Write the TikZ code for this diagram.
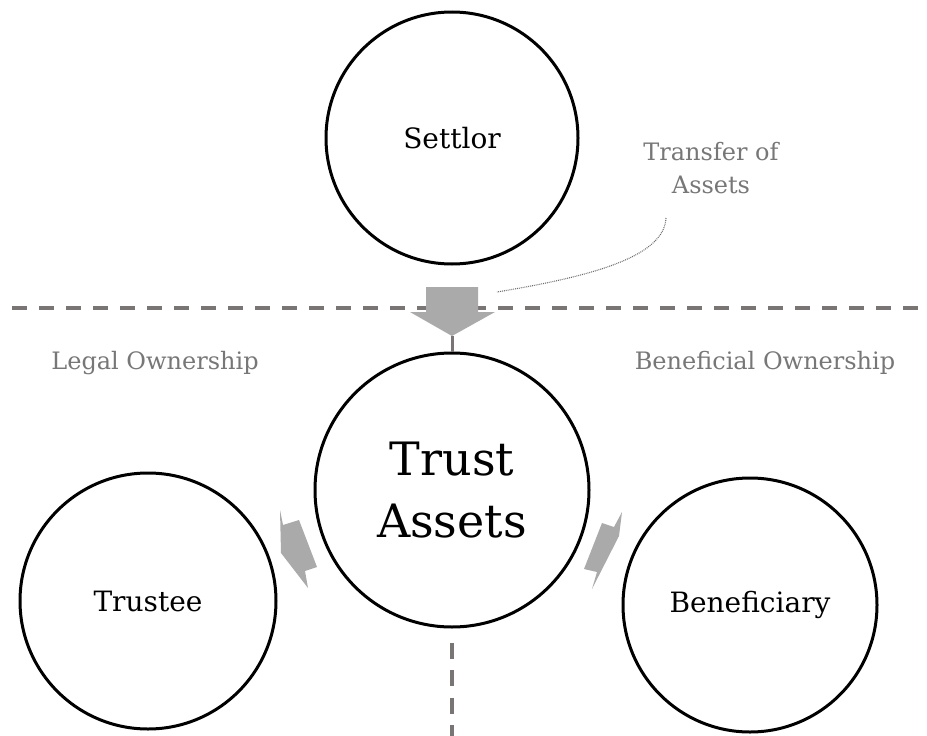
\documentclass[tikz,border=0pt]{standalone}
\usepackage{fontspec}
\setmainfont{DejaVu Serif}
\usetikzlibrary{positioning}

\definecolor{linegray}{HTML}{7A7575}
\definecolor{labelgray}{HTML}{777777}
\definecolor{arrowgray}{HTML}{AAAAAA}

\begin{document}
\begin{tikzpicture}[
  x=1pt, y=-1pt,
  party/.style={circle, draw=black, line width=3pt, fill=white,
    inner sep=0pt, align=center, font=\fontsize{28}{32}\selectfont},
  sidenote/.style={text=labelgray, align=center,
    font=\fontsize{24}{33}\selectfont},
  divider/.style={draw=linegray, line width=3.2pt,
    dash pattern=on 15pt off 12pt},
  blockarrow/.style={fill=arrowgray, draw=none}
]
\useasboundingbox (0,0) rectangle (927,736);

% Dividers
\coordinate (divleft) at (12,308);
\coordinate (divright) at (927,308);
\draw[divider] (divleft) -- (divright);

% Circles
\node[party, minimum size=252pt] (settlor) at (452,138) {Settlor};
\node[party, minimum size=274pt, font=\fontsize{46}{62}\selectfont]
  (trust) at (452,490) {Trust\\Assets};
\node[party, minimum size=256pt] (trustee) at (148,601) {Trustee};
\node[party, minimum size=254pt] (benef) at (750,605) {Beneficiary};

\coordinate (divbottom) at (452,736);
\draw[divider, dash pattern=on 16pt off 11.5pt]
  ([yshift=-14pt]trust.south) -- (divbottom);

% Labels
\node[sidenote] (legal) at (155,363) {Legal Ownership};
\node[sidenote] (beneficial) at (765,363) {Beneficial Ownership};
\node[sidenote] (transfer) at (711,168) {Transfer of\\Assets};

% Transfer arrow
\coordinate (tip) at (452,336);
\fill[blockarrow] (426,287) -- (478,287) -- (478,312) -- (495,312)
  -- (tip) -- (410,312) -- (426,312) -- cycle;
\draw[linegray, line width=3pt] (tip) -- (trust.north);
\coordinate (notestart) at (666,218);
\coordinate (noteend) at (497,292);
\draw[labelgray!90!black, line width=1.1pt, dash pattern=on 0.9pt off 1pt]
  (notestart) .. controls (664,255) and (600,275) .. (noteend);

% Ownership arrows
\fill[blockarrow] (280,510) -- (283,525) -- (299,520) -- (317,567)
  -- (305,571) -- (308,588) -- (281,553) -- cycle;
\fill[blockarrow] (622,512) -- (619,536) -- (592,589) -- (597,572)
  -- (584,569) -- (602,523) -- (614,527) -- cycle;
\end{tikzpicture}
\end{document}
